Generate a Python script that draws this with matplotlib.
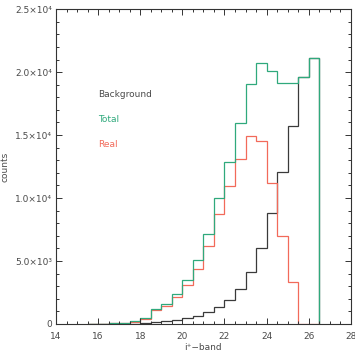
import numpy as np
import matplotlib
matplotlib.use("Agg")
import matplotlib.pyplot as plt
from matplotlib.ticker import MultipleLocator, FixedLocator, FixedFormatter

# bin edges of the i+ band histograms (0.5 mag bins)
bin_edges = np.arange(15.5, 26.51, 0.5)

real = [10, 20, 40, 90, 170, 400, 1070, 1420, 2110, 3060, 4370, 6190,
        8700, 10980, 13120, 14920, 14550, 11210, 6980, 3300, 0, 0]
background = [0, 0, 5, 10, 30, 70, 130, 200, 290, 460, 660, 950,
              1370, 1880, 2780, 4100, 6060, 8830, 12090, 15740, 19580, 21090]
total = [10, 20, 45, 100, 200, 480, 1200, 1600, 2380, 3460, 5050, 7140,
         10030, 12880, 15930, 19020, 20690, 20100, 19150, 19150, 19580, 21090]

ytick_vals = [0, 5000, 10000, 15000, 20000, 25000]
ytick_labels = ["0", "5.0×10³", "1.0×10⁴", "1.5×10⁴", "2.0×10⁴", "2.5×10⁴"]
xtick_vals = [14, 16, 18, 20, 22, 24, 26, 28]

c_bg = "#3a3a3a"
c_total = "#2fa97c"
c_real = "#f26a5a"
c_text = "#4a4a4a"

plt.rcParams["font.family"] = ["DejaVu Sans"]

fig = plt.figure(figsize=(3.55, 3.51), dpi=100)
ax = fig.add_axes([0.158, 0.077, 0.830, 0.897])

ax.stairs(background, bin_edges, color=c_bg, lw=0.9)
ax.stairs(real, bin_edges, color=c_real, lw=0.9)
ax.stairs(total, bin_edges, color=c_total, lw=0.9)

ax.set_xlim(14, 28)
ax.set_ylim(0, 25000)

ax.xaxis.set_major_locator(FixedLocator(xtick_vals))
ax.xaxis.set_minor_locator(MultipleLocator(0.5))
ax.yaxis.set_major_locator(FixedLocator(ytick_vals))
ax.yaxis.set_major_formatter(FixedFormatter(ytick_labels))
ax.yaxis.set_minor_locator(MultipleLocator(1000))

ax.tick_params(which="both", direction="in", top=True, right=True,
               color="#333333", width=0.7, labelsize=6.5, labelcolor=c_text)
ax.tick_params(which="major", length=4.5, pad=3)
ax.tick_params(which="minor", length=2.2)
ax.tick_params(axis="x", which="major", pad=5.5)
for s in ax.spines.values():
    s.set_color("#333333")
    s.set_linewidth(0.8)

ax.set_xlabel("i⁺−band", fontsize=6.5, color=c_text, labelpad=2)
ax.set_ylabel("counts", fontsize=6.5, color=c_text, labelpad=4)

ax.text(16.0, 18230, "Background", fontsize=6.5, color=c_text, va="center")
ax.text(16.0, 16250, "Total", fontsize=6.5, color=c_total, va="center")
ax.text(16.0, 14260, "Real", fontsize=6.5, color=c_real, va="center")

fig.savefig("out.png", dpi=100)
